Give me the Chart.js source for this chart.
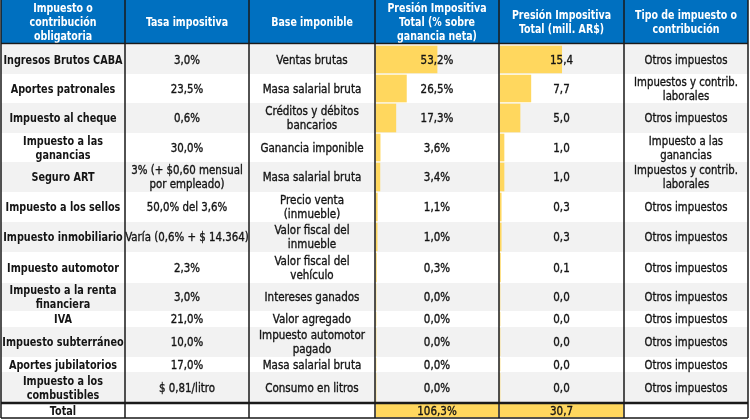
<!DOCTYPE html>
<html>
<head>
<meta charset="utf-8">
<script src="https://cdn.jsdelivr.net/npm/chart.js@4/dist/chart.umd.min.js"></script>
<style>
  html, body { margin: 0; padding: 0; background: #ffffff; }
  #wrap { width: 750px; height: 420px; }
</style>
</head>
<body>
<div id="wrap"><canvas id="taxTable" width="750" height="420"></canvas></div>
<script>
// Table data (one entry per row, '\n' marks a wrapped line)
const impuestos = [
    'Ingresos Brutos CABA', 'Aportes patronales', 'Impuesto al cheque', 'Impuesto a las\nganancias',
    'Seguro ART', 'Impuesto a los sellos', 'Impuesto inmobiliario', 'Impuesto automotor',
    'Impuesto a la renta\nfinanciera', 'IVA', 'Impuesto subterráneo', 'Aportes jubilatorios',
    'Impuesto a los\ncombustibles'
];
const tasas = [
    '3,0%', '23,5%', '0,6%', '30,0%', '3% (+ $0,60 mensual\npor empleado)', '50,0% del 3,6%',
    'Varía (0,6% + $ 14.364)', '2,3%', '3,0%', '21,0%', '10,0%', '17,0%', '$ 0,81/litro'
];
const bases = [
    'Ventas brutas', 'Masa salarial bruta', 'Créditos y débitos\nbancarios', 'Ganancia imponible',
    'Masa salarial bruta', 'Precio venta\n(inmueble)', 'Valor fiscal del\ninmueble', 'Valor fiscal del\nvehículo',
    'Intereses ganados', 'Valor agregado', 'Impuesto automotor\npagado', 'Masa salarial bruta', 'Consumo en litros'
];
const presionPct = [53.2, 26.5, 17.3, 3.6, 3.4, 1.1, 1.0, 0.3, 0.0, 0.0, 0.0, 0.0, 0.0];
const presionMill = [15.4, 7.7, 5.0, 1.0, 1.0, 0.3, 0.3, 0.1, 0.0, 0.0, 0.0, 0.0, 0.0];
const tipos = [
    'Otros impuestos', 'Impuestos y contrib.\nlaborales', 'Otros impuestos', 'Impuesto a las\nganancias',
    'Impuestos y contrib.\nlaborales', 'Otros impuestos', 'Otros impuestos', 'Otros impuestos',
    'Otros impuestos', 'Otros impuestos', 'Otros impuestos', 'Otros impuestos', 'Otros impuestos'
];
const totalLabel = 'Total';
const totalPct = 106.3;
const totalMill = 30.7;
const headers = [
    'Impuesto o\ncontribución\nobligatoria', 'Tasa impositiva', 'Base imponible',
    'Presión Impositiva\nTotal (% sobre\nganancia neta)', 'Presión Impositiva\nTotal (mill. AR$)',
    'Tipo de impuesto o\ncontribución'
];

// Layout of the grid (pixels)
const W = 750, H = 420;
const colX = [1, 125, 249, 375, 499, 624, 748];
const headerBottom = 43;
const rowTops = [45, 74, 103, 133, 162, 192, 222, 252, 283, 311, 327, 357, 372, 403];
const tableBottom = 418;

const FONT = "'Liberation Sans Narrow', 'DejaVu Sans Condensed', 'DejaVu Sans', sans-serif";
const BLUE = '#0070c0';
const STRIPE = '#f2f2f2';
const BAR = '#ffd75e';
const TEXT = '#141414';

const fmtPct = v => v.toFixed(1).replace('.', ',') + '%';
const fmtNum = v => v.toFixed(1).replace('.', ',');

function rowBottom(i) {
    return i + 1 < rowTops.length ? rowTops[i + 1] : tableBottom;
}

// x-scale range so that 0 sits on the left cell edge and maxVal on the right edge
function cellRange(left, right, maxVal) {
    const perUnit = (right - left) / maxVal;
    return { min: -left / perUnit, max: (W - left) / perUnit };
}

// One dataset per row so every bar can take the height of its own row
function barDatasets(values, total, axisId) {
    const all = values.concat([total]);
    return all.map((v, i) => {
        const top = rowTops[i], bottom = rowBottom(i);
        return {
            xAxisID: axisId,
            yAxisID: 'y',
            data: [{ x: v, y: (top + bottom) / 2 }],
            barThickness: bottom - top - 2,
            grouped: false,
            backgroundColor: BAR,
            borderWidth: 0
        };
    });
}

// centred multi-line text, squeezed horizontally to mimic a condensed face;
// a thin stroke gives the regular text the medium weight of the original
function drawLines(ctx, text, cx, cy, font, color, squeeze, heavy) {
    const lines = text.split('\n');
    const lineH = 14;
    ctx.font = font;
    ctx.fillStyle = color;
    ctx.strokeStyle = color;
    ctx.lineWidth = 0.35;
    ctx.textAlign = 'center';
    ctx.textBaseline = 'middle';
    const start = cy - (lines.length - 1) * lineH / 2;
    lines.forEach((line, k) => {
        const w = ctx.measureText(line).width * squeeze;
        ctx.fillText(line, cx, start + k * lineH, w);
        if (heavy) ctx.strokeText(line, cx, start + k * lineH, w);
    });
}

// Draws the table (backgrounds before the bars, texts and borders after)
const tablePlugin = {
    id: 'taxTable',
    beforeDatasetsDraw(chart) {
        const ctx = chart.ctx;
        ctx.save();
        ctx.fillStyle = '#ffffff';
        ctx.fillRect(0, 0, W, H);
        ctx.fillStyle = BLUE;
        ctx.fillRect(colX[0], 0, colX[6] - colX[0], headerBottom);
        impuestos.forEach((_, i) => {
            if (i % 2 === 0) {
                ctx.fillStyle = STRIPE;
                ctx.fillRect(colX[0], rowTops[i], colX[6] - colX[0], rowBottom(i) - rowTops[i]);
            }
        });
        ctx.restore();
    },
    afterDatasetsDraw(chart) {
        const ctx = chart.ctx;
        ctx.save();
        const centers = colX.slice(0, 6).map((x, c) => (x + colX[c + 1]) / 2);
        const bold = 'bold 12.5px ' + FONT;
        const regular = '12.5px ' + FONT;

        headers.forEach((h, c) => drawLines(ctx, h, centers[c], 23, bold, '#ffffff', 0.84, false));

        impuestos.forEach((name, i) => {
            const cy = (rowTops[i] + rowBottom(i)) / 2 + 1;
            drawLines(ctx, name, centers[0], cy, bold, TEXT, 0.86, false);
            drawLines(ctx, tasas[i], centers[1], cy, regular, TEXT, 0.91, true);
            drawLines(ctx, bases[i], centers[2], cy, regular, TEXT, 0.92, true);
            drawLines(ctx, fmtPct(presionPct[i]), centers[3], cy, regular, TEXT, 0.92, true);
            drawLines(ctx, fmtNum(presionMill[i]), centers[4], cy, regular, TEXT, 0.92, true);
            drawLines(ctx, tipos[i], centers[5], cy, regular, TEXT, 0.9, true);
        });

        const last = rowTops.length - 1;
        const ty = (rowTops[last] + tableBottom) / 2 + 1;
        drawLines(ctx, totalLabel, centers[0], ty, bold, TEXT, 0.86, false);
        drawLines(ctx, fmtPct(totalPct), centers[3], ty, regular, TEXT, 0.92, true);
        drawLines(ctx, fmtNum(totalMill), centers[4], ty, regular, TEXT, 0.92, true);

        // borders
        ctx.strokeStyle = '#1a1a1a';
        ctx.lineWidth = 1.5;
        ctx.beginPath();
        colX.forEach(x => { ctx.moveTo(x, 0); ctx.lineTo(x, tableBottom); });
        ctx.moveTo(colX[0], headerBottom + 0.5); ctx.lineTo(colX[6], headerBottom + 0.5);
        ctx.moveTo(colX[0], tableBottom); ctx.lineTo(colX[6], tableBottom);
        ctx.stroke();
        ctx.lineWidth = 2.5;
        ctx.beginPath();
        ctx.moveTo(colX[0], rowTops[last]); ctx.lineTo(colX[6], rowTops[last]);
        ctx.stroke();
        ctx.restore();
    }
};

const pctRange = cellRange(colX[3] + 1, colX[4] - 1, totalPct);
const millRange = cellRange(colX[4] + 1, colX[5] - 1, totalMill);

new Chart(document.getElementById('taxTable').getContext('2d'), {
    type: 'bar',
    data: {
        datasets: barDatasets(presionPct, totalPct, 'xPct').concat(barDatasets(presionMill, totalMill, 'xMill'))
    },
    options: {
        indexAxis: 'y',
        responsive: false,
        animation: false,
        layout: { padding: 0 },
        plugins: {
            legend: { display: false },
            tooltip: { enabled: false }
        },
        scales: {
            y: { type: 'linear', min: 0, max: H, reverse: true, offset: false, display: false },
            xPct: { type: 'linear', axis: 'x', position: 'bottom', display: false, min: pctRange.min, max: pctRange.max },
            xMill: { type: 'linear', axis: 'x', position: 'bottom', display: false, min: millRange.min, max: millRange.max }
        }
    },
    plugins: [tablePlugin]
});
</script>
</body>
</html>
